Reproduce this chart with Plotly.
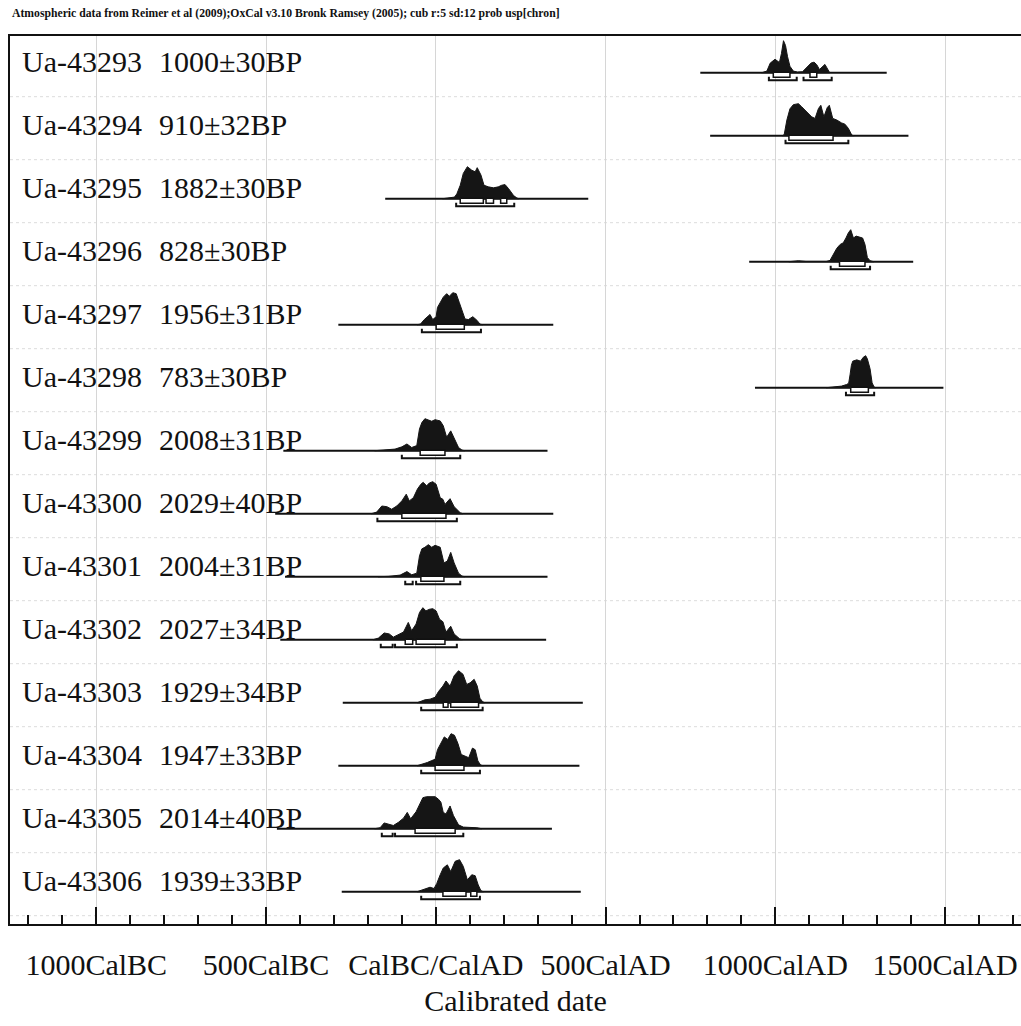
import plotly.graph_objects as go

# sample labels
lab_ids = ["Ua-43293", "Ua-43294", "Ua-43295", "Ua-43296", "Ua-43297", "Ua-43298", "Ua-43299",
           "Ua-43300", "Ua-43301", "Ua-43302", "Ua-43303", "Ua-43304", "Ua-43305", "Ua-43306"]
lab_dates = ["1000±30BP", "910±32BP", "1882±30BP", "828±30BP", "1956±31BP", "783±30BP", "2008±31BP",
             "2029±40BP", "2004±31BP", "2027±34BP", "1929±34BP", "1947±33BP", "2014±40BP", "1939±33BP"]

# plotted span of each calibrated distribution (cal years, BC negative)
span_start = [779, 808, -149, 923, -287, 940, -449, -473, -444, -458, -274, -287, -468, -277]
span_end = [1328, 1392, 449, 1406, 346, 1495, 329, 346, 329, 325, 433, 423, 342, 427]

# relative probability curves
yr_43293 = [960, 975, 985, 999, 1012, 1018, 1024, 1030, 1036, 1043, 1053, 1065, 1080, 1095, 1105, 1114, 1122, 1130, 1138, 1146, 1152, 1160]
pr_43293 = [0, 0.05, 0.3, 0.42, 0.32, 0.6, 1.0, 0.85, 0.5, 0.2, 0.05, 0.02, 0.03, 0.18, 0.3, 0.33, 0.25, 0.1, 0.18, 0.26, 0.15, 0]

yr_43294 = [1020, 1026, 1034, 1043, 1053, 1068, 1078, 1092, 1107, 1117, 1127, 1134, 1143, 1153, 1159, 1169, 1181, 1195, 1205, 1215, 1225, 1232]
pr_43294 = [0, 0.03, 0.49, 0.84, 0.97, 1.0, 0.9, 0.74, 0.59, 0.54, 0.85, 0.95, 0.59, 0.88, 0.95, 0.54, 0.49, 0.4, 0.36, 0.23, 0.02, 0]

yr_43295 = [20, 40, 55, 62, 72, 81, 93, 106, 116, 122, 133, 142, 155, 170, 184, 194, 204, 214, 229, 239, 245]
pr_43295 = [0, 0.02, 0.05, 0.15, 0.42, 0.79, 1.0, 0.89, 0.84, 0.97, 0.74, 0.42, 0.37, 0.34, 0.37, 0.42, 0.44, 0.32, 0.1, 0.02, 0]

yr_43296 = [1040, 1068, 1090, 1140, 1150, 1161, 1171, 1181, 1191, 1200, 1208, 1215, 1222, 1230, 1238, 1247, 1257, 1264, 1271, 1279, 1290]
pr_43296 = [0, 0.03, 0.01, 0.01, 0.01, 0.04, 0.24, 0.42, 0.54, 0.59, 0.74, 0.9, 1.0, 0.74, 0.8, 0.76, 0.74, 0.54, 0.13, 0.03, 0]

yr_43297 = [-55, -45, -34, -27, -17, -9, 1, 5, 13, 22, 32, 40, 50, 60, 69, 80, 86, 96, 109, 121, 130, 138]
pr_43297 = [0, 0.02, 0.16, 0.22, 0.32, 0.16, 0.25, 0.54, 0.7, 0.86, 0.97, 0.89, 1.0, 0.97, 0.7, 0.38, 0.18, 0.16, 0.25, 0.14, 0.02, 0]

yr_43298 = [1150, 1170, 1195, 1210, 1216, 1220, 1224, 1228, 1240, 1251, 1259, 1266, 1271, 1279, 1285, 1291, 1295]
pr_43298 = [0, 0.02, 0.05, 0.1, 0.14, 0.4, 0.7, 0.83, 0.87, 0.83, 0.95, 1.0, 0.9, 0.59, 0.15, 0.02, 0]

yr_43299 = [-180, -150, -120, -100, -85, -71, -56, -48, -41, -32, -22, -12, -2, 13, 22, 32, 44, 54, 67, 77, 85]
pr_43299 = [0, 0.02, 0.05, 0.12, 0.21, 0.1, 0.16, 0.68, 0.88, 1.0, 0.97, 0.92, 0.97, 0.93, 0.78, 0.42, 0.62, 0.37, 0.1, 0.02, 0]

yr_43300 = [-190, -174, -159, -144, -130, -115, -100, -87, -78, -66, -54, -44, -37, -27, -19, -9, 1, 13, 21, 27, 42, 54, 72, 80]
pr_43300 = [0, 0.05, 0.24, 0.22, 0.14, 0.24, 0.4, 0.61, 0.4, 0.5, 0.77, 0.92, 0.98, 0.87, 0.96, 1.0, 0.92, 0.5, 0.45, 0.29, 0.47, 0.22, 0.03, 0]

yr_43301 = [-170, -140, -105, -85, -71, -56, -48, -41, -32, -22, -12, -2, 13, 24, 34, 44, 54, 67, 77, 85]
pr_43301 = [0, 0.01, 0.05, 0.16, 0.06, 0.11, 0.65, 0.87, 0.92, 1.0, 0.92, 0.98, 0.92, 0.43, 0.49, 0.76, 0.43, 0.11, 0.02, 0]

yr_43302 = [-185, -169, -152, -137, -125, -110, -95, -81, -71, -58, -48, -38, -29, -19, -9, 1, 11, 21, 30, 44, 54, 70, 78]
pr_43302 = [0, 0.05, 0.21, 0.18, 0.08, 0.15, 0.24, 0.54, 0.28, 0.49, 0.85, 1.0, 0.9, 0.95, 0.97, 0.9, 0.64, 0.56, 0.24, 0.42, 0.18, 0.03, 0]

yr_43303 = [-55, -32, -17, -2, 8, 21, 30, 42, 54, 67, 80, 91, 101, 113, 122, 130, 138, 145]
pr_43303 = [0, 0.09, 0.11, 0.17, 0.35, 0.52, 0.68, 0.52, 0.84, 1.0, 0.89, 0.57, 0.62, 0.73, 0.52, 0.14, 0.03, 0]

yr_43304 = [-55, -40, -25, -12, -2, 5, 15, 25, 35, 45, 55, 65, 75, 85, 97, 108, 116, 124, 132, 140]
pr_43304 = [0, 0.04, 0.1, 0.16, 0.2, 0.5, 0.72, 0.9, 0.82, 1.0, 0.95, 0.7, 0.35, 0.3, 0.25, 0.55, 0.5, 0.15, 0.02, 0]

yr_43305 = [-180, -164, -152, -140, -125, -110, -95, -84, -74, -58, -48, -38, -27, -12, -2, 8, 15, 22, 30, 42, 52, 67, 81, 121, 135]
pr_43305 = [0, 0.03, 0.18, 0.15, 0.1, 0.2, 0.33, 0.51, 0.31, 0.53, 0.76, 0.97, 1.0, 1.0, 1.0, 0.92, 0.83, 0.51, 0.46, 0.71, 0.41, 0.12, 0.05, 0.03, 0]

yr_43306 = [-55, -32, -17, -5, 3, 13, 22, 34, 44, 57, 70, 81, 93, 106, 116, 125, 133, 140]
pr_43306 = [0, 0.07, 0.14, 0.1, 0.26, 0.53, 0.74, 0.84, 0.63, 0.95, 1.0, 0.79, 0.37, 0.53, 0.5, 0.21, 0.03, 0]

curve_years = [yr_43293, yr_43294, yr_43295, yr_43296, yr_43297, yr_43298, yr_43299,
               yr_43300, yr_43301, yr_43302, yr_43303, yr_43304, yr_43305, yr_43306]
curve_probs = [pr_43293, pr_43294, pr_43295, pr_43296, pr_43297, pr_43298, pr_43299,
               pr_43300, pr_43301, pr_43302, pr_43303, pr_43304, pr_43305, pr_43306]

# 68.2% and 95.4% ranges
range68 = [[(994, 1043), (1102, 1122)], [(1040, 1170)], [(72, 140), (148, 170), (191, 209)],
           [(1189, 1264)], [(1, 84)], [(1222, 1274)], [(-46, 27)], [(-100, 30)], [(-44, 24)],
           [(-90, -68), (-58, 27)], [(22, 36), (44, 126)], [(-2, 83)], [(-61, 57)], [(21, 89), (103, 121)]]
range95 = [[(981, 1063), (1083, 1166)], [(1030, 1215)], [(60, 231)], [(1163, 1279)], [(-41, 133)],
           [(1208, 1291)], [(-100, 72)], [(-172, 62)], [(-90, -68), (-58, 72)],
           [(-162, -127), (-120, 62)], [(-43, 138)], [(-43, 130)], [(-159, -127), (-120, 81)], [(-43, 130)]]

tick_years = [-1000, -500, 0, 500, 1000, 1500]
tick_text = ["1000CalBC", "500CalBC", "CalBC/CalAD", "500CalAD", "1000CalAD", "1500CalAD"]

TITLE = "Atmospheric data from Reimer et al (2009);OxCal v3.10 Bronk Ramsey (2005); cub r:5 sd:12 prob usp[chron]"
SERIF = "Liberation Serif, Times New Roman, serif"

# geometry in plot pixels (y axis runs 0..888)
TOP_BASE = 851.3
ROW_STEP = 63.0
PEAK = 32.0

fig = go.Figure()
annotations = []
shapes = []

for i in range(len(lab_ids)):
    base = TOP_BASE - i * ROW_STEP

    # faint separator line below each row
    shapes.append(dict(type="line", xref="paper", yref="y", x0=0, x1=1, y0=base - 24, y1=base - 24,
                       line=dict(color="#dcdcdc", width=1, dash="dot"), layer="below"))

    fig.add_trace(go.Scatter(x=[span_start[i], span_end[i]], y=[base, base], mode="lines",
                             line=dict(color="#111", width=2)))

    yrs = curve_years[i]
    prs = curve_probs[i]
    fig.add_trace(go.Scatter(x=yrs + [yrs[-1], yrs[0]],
                             y=[base + p * PEAK for p in prs] + [base, base],
                             mode="lines", fill="toself", fillcolor="#151515",
                             line=dict(color="#151515", width=1)))

    bx, by = [], []
    for a, b in range68[i]:
        bx += [a, a, b, b, a, None]
        by += [base + 0.5, base - 4.5, base - 4.5, base + 0.5, base + 0.5, None]
    fig.add_trace(go.Scatter(x=bx, y=by, mode="lines", fill="toself", fillcolor="white",
                             line=dict(color="#111", width=1.5)))

    kx, ky = [], []
    for a, b in range95[i]:
        kx += [a, a, b, b, None]
        ky += [base - 4, base - 7.5, base - 7.5, base - 4, None]
    fig.add_trace(go.Scatter(x=kx, y=ky, mode="lines", line=dict(color="#111", width=2)))

    annotations.append(dict(text=lab_ids[i], xref="paper", yref="y", x=0.0099, y=base,
                            xanchor="left", yanchor="bottom", yshift=-7, showarrow=False,
                            font=dict(family=SERIF, size=30, color="#111")))
    annotations.append(dict(text=lab_dates[i], xref="paper", yref="y", x=0.1454, y=base,
                            xanchor="left", yanchor="bottom", yshift=-7, showarrow=False,
                            font=dict(family=SERIF, size=30, color="#111")))

annotations.append(dict(text="<b>" + TITLE + "</b>", xref="paper", yref="paper", x=0, y=1.0259,
                        xanchor="left", yanchor="middle", showarrow=False,
                        font=dict(family=SERIF, size=11.7, color="#111")))

fig.update_traces(hoverinfo="skip", showlegend=False)

fig.update_layout(
    width=1021, height=1026,
    margin=dict(l=10, r=0, t=36, b=102, autoexpand=False),
    paper_bgcolor="white", plot_bgcolor="white",
    annotations=annotations, shapes=shapes,
    xaxis=dict(range=[-1254, 1723.5], tickmode="array", tickvals=tick_years, ticktext=tick_text,
               automargin=False,
               ticks="inside", ticklen=17, tickwidth=2, tickcolor="#111",
               minor=dict(ticks="inside", ticklen=9, tickwidth=2, tickcolor="#111",
                          tickmode="linear", tick0=0, dtick=100, showgrid=False),
               showline=True, linecolor="#111", linewidth=2, mirror=True,
               showgrid=True, gridcolor="#d6d6d6", gridwidth=1, zeroline=False,
               tickfont=dict(family=SERIF, size=30, color="#111"), ticklabelstandoff=13,
               title=dict(text="Calibrated date", standoff=10,
                          font=dict(family=SERIF, size=30, color="#111"))),
    yaxis=dict(range=[0, 888], showticklabels=False, ticks="", showgrid=False, zeroline=False,
               automargin=False,
               showline=True, linecolor="#111", linewidth=2, mirror=False),
)

# drop the browser's default page margin so the figure sits at the window origin
fig.write_html("out.html", config={"displayModeBar": False},
               post_script="document.body.style.margin='0';document.body.style.overflow='hidden';")
